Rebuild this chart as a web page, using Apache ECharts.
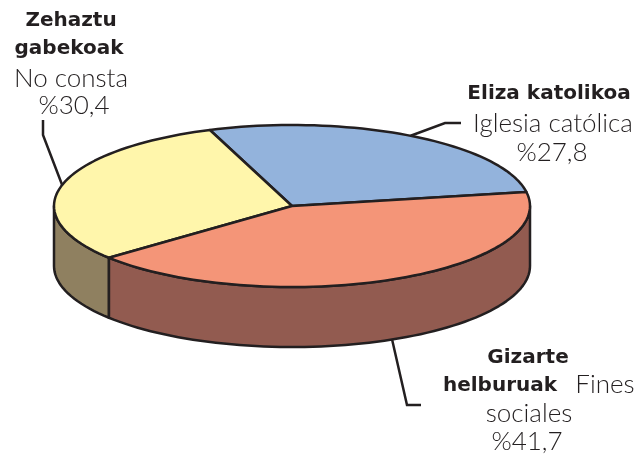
<!DOCTYPE html>
<html>
<head>
<meta charset="utf-8">
<script src="https://cdn.jsdelivr.net/npm/echarts@6/dist/echarts.min.js"></script>
<style>
  html, body { margin: 0; padding: 0; background: #fff; }
  #chart { width: 637px; height: 464px; }
</style>
</head>
<body>
<div id="chart"></div>
<script>
// data
const namesEu = ['Eliza katolikoa', 'Zehaztu gabekoak', 'Gizarte helburuak'];
const namesEs = ['Iglesia católica', 'No consta', 'Fines sociales'];
const values = [27.8, 30.4, 41.7];

// look
const topColors = ['#93b3dc', '#fff6ab', '#f49578'];
const sideColors = ['#6f87a6', '#8f8060', '#925b50'];
const INK = '#231f20';
const CX = 292, CY = 206, RX = 238, RY = 81, DEPTH = 60;
const START = 10; // degrees, counter-clockwise from 3 o'clock

const total = values.reduce((a, b) => a + b, 0);
const angles = [];
let acc = START;
values.forEach((v) => {
  angles.push([acc, acc + (v / total) * 360]);
  acc += (v / total) * 360;
});

const pt = (a, dy) => {
  const r = (a * Math.PI) / 180;
  return [CX + RX * Math.cos(r), CY - RY * Math.sin(r) + (dy || 0)];
};
const arc = (a0, a1, dy) => {
  const n = Math.max(2, Math.ceil(Math.abs(a1 - a0) / 2));
  const pts = [];
  for (let i = 0; i <= n; i++) pts.push(pt(a0 + ((a1 - a0) * i) / n, dy));
  return pts;
};

// leader line knee / end points, per slice
const leaders = [
  [[445, 123], [461, 123]],
  [[43, 135], [43, 120]],
  [[407, 405], [421, 405]],
];

const renderSlice = (params) => {
  const i = params.dataIndex;
  const [a0, a1] = angles[i];
  const children = [];
  // visible (front) side wall
  [0, 360].forEach((k) => {
    const lo = Math.max(a0, 180 + k);
    const hi = Math.min(a1, 360 + k);
    if (hi > lo) {
      children.push({
        type: 'polygon',
        z2: 1,
        shape: { points: arc(lo, hi, 0).concat(arc(hi, lo, DEPTH)) },
        style: { fill: sideColors[i], stroke: INK, lineWidth: 2.5, lineJoin: 'round' },
      });
    }
  });
  // top face
  children.push({
    type: 'polygon',
    z2: 2,
    shape: { points: [[CX, CY]].concat(arc(a0, a1, 0)) },
    style: { fill: topColors[i], stroke: INK, lineWidth: 2.5, lineJoin: 'round' },
  });
  // leader line from the middle of the slice
  const mid = ((((a0 + a1) / 2) % 360) + 360) % 360;
  const start = pt(mid, mid > 180 ? DEPTH : 0);
  children.push({
    type: 'polyline',
    z2: 3,
    shape: { points: [start].concat(leaders[i]) },
    style: { fill: null, stroke: INK, lineWidth: 2.5, lineJoin: 'miter' },
  });
  return { type: 'group', children };
};

const pct = (v) => '%' + v.toFixed(1).replace('.', ',');
const BOLD = 'bold 20px "DejaVu Sans"';
const REG = '300 26px Lato';
const txt = (text, x, y, font) => ({
  type: 'text',
  x, y,
  silent: true,
  style: { text, font, fill: INK, textAlign: 'center', align: 'center', textVerticalAlign: 'middle', verticalAlign: 'middle' },
});

const eu0 = namesEu[0], eu1 = namesEu[1].split(' '), eu2 = namesEu[2].split(' ');
const es2 = namesEs[2].split(' ');

const chart = echarts.init(document.getElementById('chart'));
chart.setOption({
  animation: false,
  series: [
    {
      type: 'custom',
      coordinateSystem: 'none',
      silent: true,
      data: values,
      renderItem: renderSlice,
    },
  ],
  graphic: [
    txt(eu1[0], 71, 21, BOLD),
    txt(eu1[1], 69, 49, BOLD),
    txt(namesEs[1], 71, 79, REG),
    txt(pct(values[1]), 74, 106, REG),
    txt(eu0, 549, 94, BOLD),
    txt(namesEs[0], 553, 124, REG),
    txt(pct(values[0]), 552, 153, REG),
    txt(eu2[0], 528, 358, BOLD),
    txt(eu2[1], 500, 386, BOLD),
    txt(es2[0], 605, 385, REG),
    txt(es2[1], 529, 414, REG),
    txt(pct(values[2]), 527, 442, REG),
  ],
});
</script>
</body>
</html>
